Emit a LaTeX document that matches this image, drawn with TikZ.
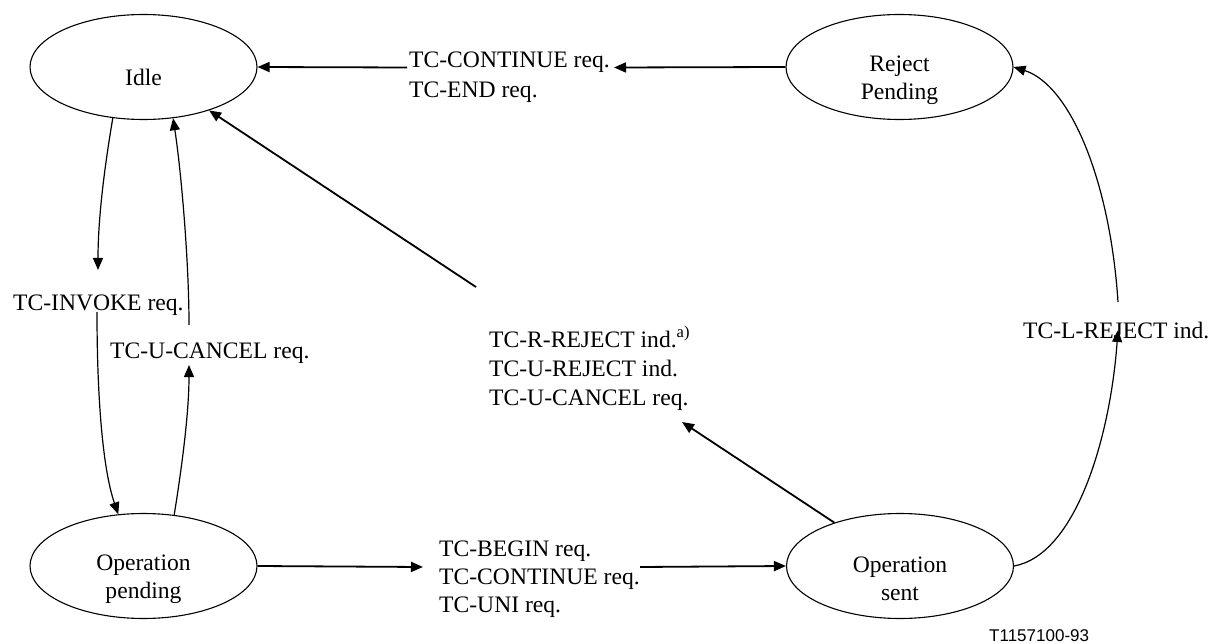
\documentclass[tikz,border=0pt]{standalone}
\usepackage{fontspec}
\setmainfont{Liberation Serif}
\newfontfamily\figfont{Liberation Sans}
\usetikzlibrary{shapes.geometric,arrows.meta}
\begin{document}
\begin{tikzpicture}[x=1pt,y=-1pt,
  state/.style={ellipse,draw,line width=1.1pt,minimum width=227pt,minimum height=105pt,inner sep=0pt},
  stxt/.style={font=\fontsize{23.6}{28}\selectfont,align=center,inner sep=0pt},
  lbl/.style={font=\fontsize{23.6}{29}\selectfont,anchor=base west,inner sep=0pt},
  tip/.style={-{Triangle[length=12pt,width=10pt]}},
  arr/.style={tip,line width=1.8pt},
  carr/.style={tip,line width=1.2pt},
  cline/.style={line width=1.2pt}]
\useasboundingbox (0,0) rectangle (1212,644);

% states
\node[state] (idle) at (143.5,67) {};
\node[state] (rp)   at (899.5,67) {};
\node[state] (opp)  at (143.5,566) {};
\node[state] (ops)  at (900,566) {};
\node[stxt] (idlet) at ([yshift=-10pt]idle.center) {Idle};
\node[stxt] (rpt)   at ([yshift=-13pt]rp.center) {Reject\\Pending};
\node[stxt] (oppt)  at ([yshift=-13pt]opp.center) {Operation\\pending};
\node[stxt] (opst)  at ([yshift=-13pt]ops.center) {Operation\\sent};

% labels
\node[lbl] (tcont)  at (409,67.5) {TC-CONTINUE req.};
\node[lbl] (tend)   at (409,98)   {TC-END req.};
\node[lbl] (tinv)   at (13,310)   {TC-INVOKE req.};
\node[lbl] (tucan)  at (110,358)  {TC-U-CANCEL req.};
\node[lbl] (trrej)  at (489,347)  {TC-R-REJECT ind.\textsuperscript{a)}};
\node[lbl] (turej)  at (489,376)  {TC-U-REJECT ind.};
\node[lbl] (tucan2) at (489,405)  {TC-U-CANCEL req.};
\node[lbl] (tbeg)   at (439,556)  {TC-BEGIN req.};
\node[lbl] (tcont2) at (439,584)  {TC-CONTINUE req.};
\node[lbl] (tuni)   at (439,612)  {TC-UNI req.};
\node[lbl] (tlrej)  at (1023,338) {TC-L-REJECT ind.};
\node[anchor=base west,inner sep=0pt,font=\figfont\fontsize{17}{20}\selectfont] (fig) at (989,641) {T1157100-93};

% free ends
\coordinate (a1) at (98,270);
\coordinate (b0) at (97,312);
\coordinate (c1) at (189,365);
\coordinate (d0) at (189,325);
\coordinate (e1) at (1118,330);
\coordinate (f0) at (1118,302);
\coordinate (topR) at (614,67.5);
\coordinate (topL) at (407,67.5);
\coordinate (diag0) at (476,287);
\coordinate (diag1) at (682,422);
\coordinate (botL) at (423,567);
\coordinate (botR) at (640,567);

% connectors
\draw[arr] (rp.west) -- (topR);
\draw[arr] (topL) -- (idle.east);

\draw[carr] (idle.239) .. controls (104,170) and (98,220) .. (a1);
\draw[carr] (b0) .. controls (97,400) and (103,470) .. (opp.116);

\draw[carr] (opp.59) .. controls (183,460) and (189,410) .. (c1);
\draw[carr] (d0) .. controls (189,260) and (181,170) .. (idle.300);

\draw[arr] (diag0) -- (idle);
\draw[arr] (ops) -- (diag1);

\draw[arr] (opp.east) -- (botL);
\draw[arr] (botR) -- (ops.west);

\draw[carr] (ops.east) .. controls (1075,555) and (1110,440) .. (e1);
\draw[carr] (f0) .. controls (1110,180) and (1070,85) .. (rp.east);
\end{tikzpicture}
\end{document}
